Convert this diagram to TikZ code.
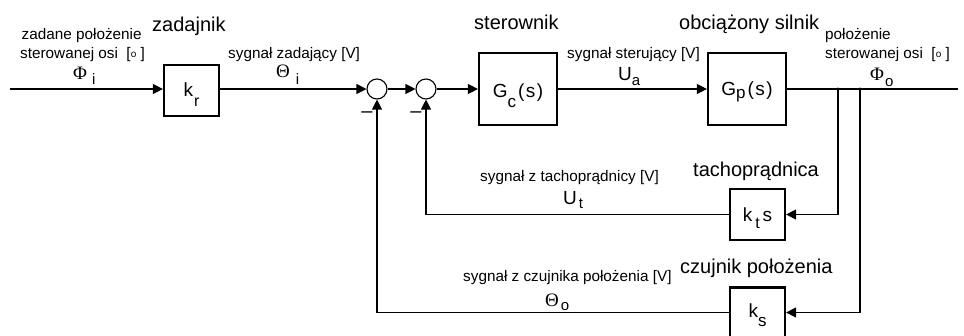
\documentclass[tikz,border=0pt]{standalone}
\usepackage{fontspec}
\setmainfont{Liberation Sans}
\newfontfamily\grk{Liberation Serif}
\usetikzlibrary{arrows.meta}
\newcommand{\lo}[3][15]{\raisebox{-#2pt}{\fontsize{#1}{#1}\selectfont #3}}
\newcommand{\dego}{[\raisebox{1pt}{\fontsize{10}{10}\selectfont o}\ ]}
\begin{document}
\begin{tikzpicture}[x=1pt,y=-1pt,
  blk/.style={draw, line width=2.2pt, inner sep=0pt, text depth=0pt, font=\fontsize{19}{22}\selectfont},
  sumj/.style={draw, circle, line width=1.1pt, minimum size=20pt, inner sep=0pt},
  wire/.style={line width=1.2pt},
  arr/.style={wire, -{Triangle[length=10pt,width=10pt]}},
  lbl/.style={inner sep=0pt, anchor=base west, font=\fontsize{20}{24}\selectfont},
  sml/.style={inner sep=0pt, anchor=base west, font=\fontsize{15.3}{18}\selectfont},
  sig/.style={inner sep=0pt, anchor=base west, font=\fontsize{19}{22}\selectfont},
  minus/.style={inner sep=0pt, font=\fontsize{20}{24}\selectfont}]
\useasboundingbox (0,0) rectangle (964,336);
\clip (0,0) rectangle (964,336);

% blocks
\node[blk, minimum width=55pt, minimum height=51pt, text height=13pt] (kr) at (191.5,90.5) {k\hspace{1pt}\lo[16]{10}{r}};
\node[sumj] (s1) at (377,89) {};
\node[sumj] (s2) at (426,89) {};
\node[blk, minimum width=78pt, minimum height=72pt, text height=18pt] (gc) at (518,89) {G\lo[17]{10}{c}\hspace{2pt}(\hspace{1.5pt}s\hspace{1.5pt})};
\node[blk, minimum width=78pt, minimum height=72pt, text height=14pt] (gp) at (747,89) {G\lo[17]{3}{p}\hspace{2pt}(\hspace{1.5pt}s\hspace{1.5pt})};
\node[blk, minimum width=55pt, minimum height=51pt, text height=14.4pt] (kt) at (757.5,214.5) {k\hspace{3pt}\lo[16]{7}{t}\hspace{3pt}s};
\node[blk, minimum width=55pt, minimum height=50pt, text height=10.4pt] (ks) at (757.5,312.5) {k\lo[17]{9}{s}};

% coordinates
\coordinate (in) at (10,89);
\coordinate (b1) at (838,89);
\coordinate (b2) at (860,89);
\coordinate (out) at (958,89);

% connectors
\draw[arr] (in) -- (in -| kr.west);
\draw[arr] (s1 -| kr.east) -- (s1.west);
\draw[arr] (s1.east) -- (s2.west);
\draw[arr] (s2.east) -- (s2 -| gc.west);
\draw[arr] (gc.east) -- (gp.west);
\draw[wire] (gp.east) -- (out);
\draw[arr] (b1) |- (kt.east);
\draw[arr] (kt.west) -| (s2.south);
\draw[arr] (b2) |- (ks.east);
\draw[arr] (ks.west) -| (s1.south);
\fill (b1) circle (1.6pt);
\fill (b2) circle (1.6pt);

% minus signs
\node[minus] (m1) at (367,114.5) {–};
\node[minus] (m2) at (416,114.5) {–};

% block titles
\node[lbl] (tkr) at (152,31.5) {zadajnik};
\node[lbl] (tgc) at (474,30) {sterownik};
\node[lbl] (tgp) at (679,30) {obciążony silnik};
\node[lbl] (tkt) at (693,177) {tachoprądnica};
\node[lbl] (tks) at (680,274) {czujnik położenia};

% signal descriptions
\node[sml] (d1a) at (21.5,40) {zadane położenie};
\node[sml] (d1b) at (20,58.5) {sterowanej osi \ \dego};
\node[sml] (d2) at (228,58.5) {sygnał zadający [V]};
\node[sml] (d3) at (567,58.5) {sygnał sterujący [V]};
\node[sml] (d4a) at (825,40) {położenie};
\node[sml] (d4b) at (825,58.5) {sterowanej osi \ \dego};
\node[sml] (d5) at (480,181.5) {sygnał z tachoprądnicy [V]};
\node[sml] (d6) at (463,282) {sygnał z czujnika położenia [V]};

% signal symbols
\node[sig] (phii) at (73,80) {{\grk Φ}\hspace{5pt}\lo{5}{i}};
\node[sig] (thi) at (276,78) {{\grk Θ}\hspace{6pt}\lo{7}{i}};
\node[sig] (ua) at (618,81) {U\lo{5}{a}};
\node[sig] (phio) at (870,81) {{\grk Φ}\hspace{1pt}\lo{6}{o}};
\node[sig] (ut) at (563,205) {U\hspace{2pt}\lo{4}{t}};
\node[sig] (tho) at (545,306.7) {{\grk Θ}\hspace{2pt}\lo{4}{o}};
\end{tikzpicture}
\end{document}
